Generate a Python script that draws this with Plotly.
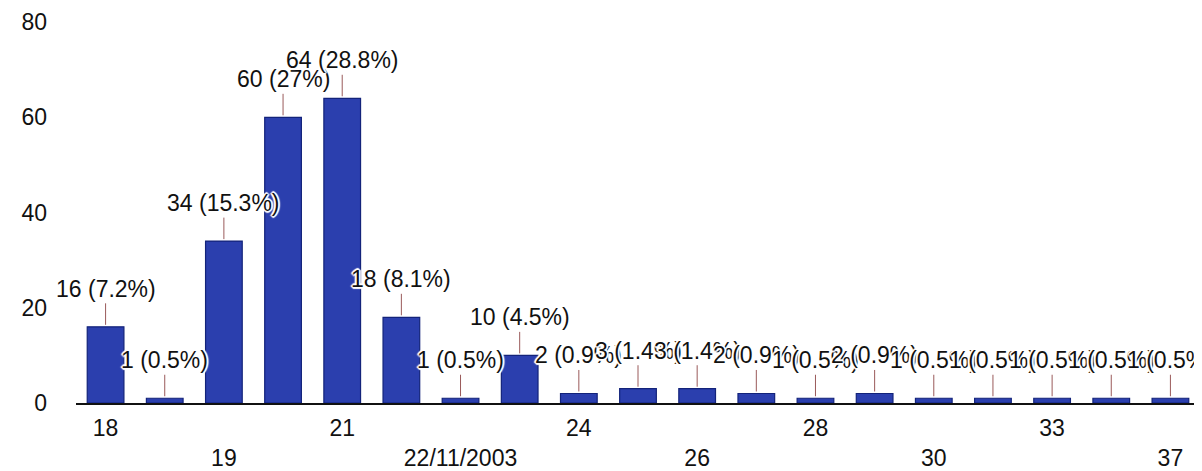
import plotly.graph_objects as go

counts = [16, 1, 34, 60, 64, 18, 1, 10, 2, 3, 3, 2, 1, 2, 1, 1, 1, 1, 1]
percents = ["7.2", "0.5", "15.3", "27", "28.8", "8.1", "0.5", "4.5", "0.9", "1.4",
            "1.4", "0.9", "0.5", "0.9", "0.5", "0.5", "0.5", "0.5", "0.5"]
tick_positions = [0, 2, 4, 6, 8, 10, 12, 14, 16, 18]
tick_labels = ["18", "19", "21", "22/11/2003", "24", "26", "28", "30", "33", "37"]

x = list(range(len(counts)))
font_family = "Liberation Sans, Arial, sans-serif"

fig = go.Figure(go.Bar(
    x=x, y=counts,
    marker=dict(color="#2b3fae", line=dict(color="#13237a", width=1.2)),
    width=0.62,
    hoverinfo="skip",
))

halo = ("1px 1px 1px #fff, -1px -1px 1px #fff, 1px -1px 1px #fff, -1px 1px 1px #fff,"
        " 2px 0 1px #fff, -2px 0 1px #fff, 0 2px 1px #fff, 0 -2px 1px #fff")
for xi, c, p in zip(x, counts, percents):
    fig.add_annotation(
        x=xi, y=c, text=f"{c} ({p}%)",
        showarrow=True, arrowhead=0, arrowwidth=1, arrowcolor="#9a5a5a",
        ax=0, ay=-38, standoff=2,
        font=dict(family=font_family, size=23, color="#111", shadow=halo),
    )

ticktext = [lab if i % 2 == 0 else "<br>" + lab for i, lab in enumerate(tick_labels)]

fig.update_layout(
    width=1202, height=471,
    margin=dict(l=68, r=10, t=14, b=76),
    plot_bgcolor="white", paper_bgcolor="white",
    font=dict(family=font_family, size=23, color="#111"),
    showlegend=False,
    xaxis=dict(
        range=[-0.5, 18.5], tickmode="array", tickvals=tick_positions, ticktext=ticktext,
        showline=True, linecolor="#111", linewidth=2, showgrid=False, zeroline=False,
        ticks="", ticklabelstandoff=3, automargin=False,
    ),
    yaxis=dict(
        range=[0, 80.02], tickmode="array", tickvals=[0, 20, 40, 60, 80],
        showgrid=False, zeroline=False, automargin=False,
        showline=False, ticks="", ticklabelstandoff=28,
    ),
)

fig.write_html("out.html")
